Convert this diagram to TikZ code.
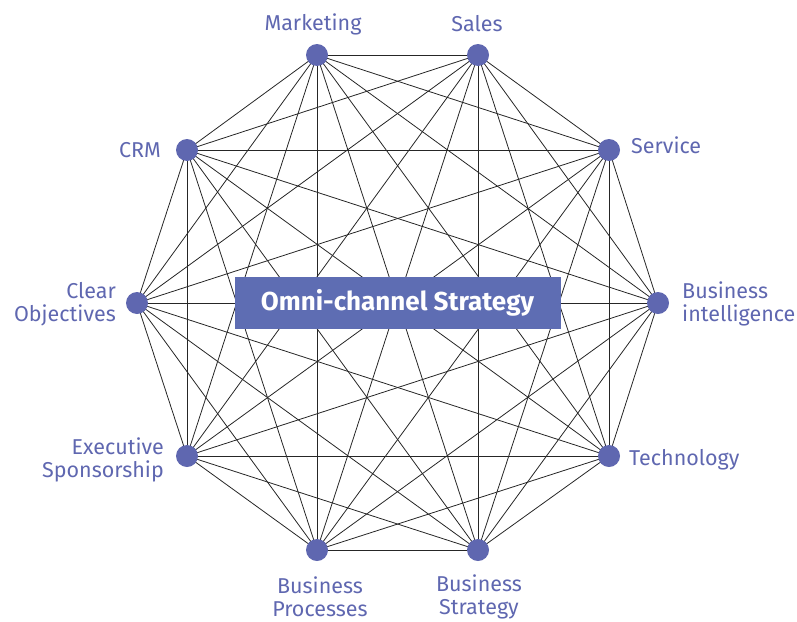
\documentclass[tikz,border=0pt]{standalone}
\usepackage{fontspec}
\setmainfont{Fira Sans}
\usetikzlibrary{backgrounds}
\definecolor{nodeblue}{HTML}{5F67B0}
\definecolor{boxblue}{HTML}{5E6DB3}
\begin{document}
\begin{tikzpicture}[x=1pt,y=-1pt,
  dot/.style={circle,fill=nodeblue,inner sep=0pt,minimum size=22pt},
  lbl/.style={text=nodeblue,font=\fontsize{21.5}{23}\selectfont,inner sep=0pt,align=center},
  lblr/.style={lbl,align=right},
  lbll/.style={lbl,align=left},
  edge/.style={black!85,line width=0.8pt},
  centerbox/.style={fill=boxblue,text=white,font=\fontsize{26}{30}\selectfont\bfseries,minimum width=326pt,minimum height=52pt,inner sep=0pt}]
\useasboundingbox (0,0) rectangle (797,621);
\node[dot] (n0) at (317,55) {};
\node[dot] (n1) at (478,55) {};
\node[dot] (n2) at (609,150) {};
\node[dot] (n3) at (658,303) {};
\node[dot] (n4) at (609,456) {};
\node[dot] (n5) at (478,550) {};
\node[dot] (n6) at (317,550) {};
\node[dot] (n7) at (187,456) {};
\node[dot] (n8) at (137,303) {};
\node[dot] (n9) at (187,150) {};
\begin{scope}[on background layer]
\foreach \i in {0,...,8}{
  \pgfmathtruncatemacro{\s}{\i+1}
  \foreach \j in {\s,...,9}{
    \draw[edge] (n\i.center) -- (n\j.center);
  }
}
\end{scope}
\node[centerbox] (c) at (397.5,303) {Omni-channel Strategy};
\node[lbl,anchor=center] (l0) at (313,24) {Marketing};
\node[lbl,anchor=center] (l1) at (477,24) {Sales};
\node[lbll,anchor=west] (l2) at (631,145) {Service};
\node[lbll,anchor=west] (l3) at (682,304) {Business\\intelligence};
\node[lbll,anchor=west] (l4) at (629,460) {Technology};
\node[lbl,anchor=center] (l5) at (479,597) {Business\\Strategy};
\node[lbl,anchor=center] (l6) at (320,597) {Business\\Processes};
\node[lblr,anchor=east] (l7) at (164,460) {Executive\\Sponsorship};
\node[lblr,anchor=east] (l8) at (116,304) {Clear\\Objectives};
\node[lblr,anchor=east] (l9) at (161,150) {CRM};
\end{tikzpicture}
\end{document}
